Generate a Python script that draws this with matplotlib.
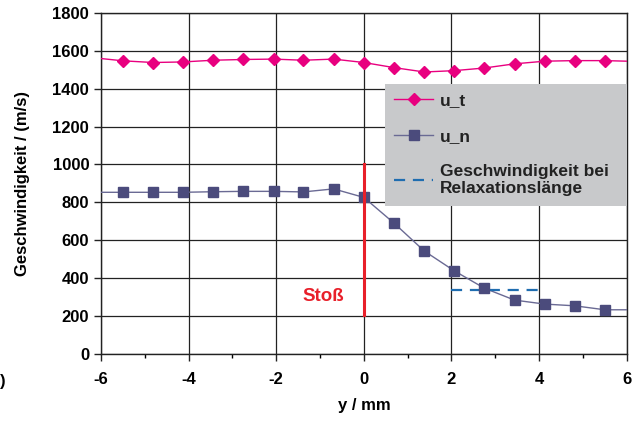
import matplotlib
matplotlib.use('Agg')
import matplotlib.pyplot as plt
from matplotlib.ticker import MultipleLocator

plt.rcParams['font.family'] = ['Liberation Sans', 'DejaVu Sans']
plt.rcParams['font.weight'] = 'bold'
plt.rcParams['axes.unicode_minus'] = False

# values
y_pos = [-5.5, -4.81, -4.13, -3.44, -2.75, -2.06, -1.38, -0.69, 0.0,
         0.69, 1.38, 2.06, 2.75, 3.44, 4.13, 4.81, 5.5]
u_t = [1547, 1538, 1541, 1550, 1554, 1556, 1550, 1556, 1538,
       1511, 1488, 1495, 1509, 1531, 1545, 1548, 1548]
u_n = [853, 853, 853, 856, 858, 858, 855, 871, 826,
       690, 543, 439, 347, 284, 263, 254, 233]
# line continues to the plot border
edge_x = [-6.0, 6.0]
u_t_edge = [1559, 1545]
u_n_edge = [853, 233]

shock_x = 0.0
shock_y = [207, 1000]
relax_x = [2.0, 4.0]
relax_y = 340

fig = plt.figure(figsize=(6.35, 4.29), dpi=100)
ax = fig.add_axes([0.159, 0.175, 0.828, 0.795])

c_t = '#e8007f'
c_n = '#4b4b7c'

ax.plot([edge_x[0]] + y_pos + [edge_x[1]], [u_t_edge[0]] + u_t + [u_t_edge[1]],
        color=c_t, lw=1.0, zorder=3)
ax.plot(y_pos, u_t, ls='none', marker='D', ms=6, color=c_t, zorder=4)
ax.plot([], [], color=c_t, lw=1.0, marker='D', ms=6, label='u_t')

ax.plot([edge_x[0]] + y_pos + [edge_x[1]], [u_n_edge[0]] + u_n + [u_n_edge[1]],
        color='#6a6a94', lw=1.0, zorder=3)
ax.plot(y_pos, u_n, ls='none', marker='s', ms=7, color=c_n, zorder=4)
ax.plot([], [], color='#6a6a94', lw=1.0, marker='s', ms=7, mfc=c_n, mec=c_n, label='u_n')

ax.plot(relax_x, [relax_y, relax_y], color='#1f6db0', lw=1.6, ls=(0, (5, 3.5)),
        zorder=3, label='Geschwindigkeit bei\nRelaxationslänge')

ax.plot([shock_x, shock_x], shock_y, color='#e8202a', lw=2.2, zorder=5)
ax.text(-0.92, 305, 'Stoß', color='#e8202a', fontsize=13.5, fontweight='bold',
        ha='center', va='center')

ax.set_xlim(-6, 6)
ax.set_ylim(0, 1800)
ax.xaxis.set_major_locator(MultipleLocator(2))
ax.xaxis.set_minor_locator(MultipleLocator(1))
ax.yaxis.set_major_locator(MultipleLocator(200))
ax.grid(True, which='major', color='#222222', lw=0.9)
ax.set_axisbelow(True)
for s in ax.spines.values():
    s.set_color('#222222')
    s.set_linewidth(1.0)

ax.tick_params(axis='both', which='major', direction='out', length=5,
               labelsize=12, width=1, color='#222222')
ax.tick_params(axis='x', which='minor', direction='out', length=3, width=1)
ax.tick_params(axis='x', pad=8)
for lab in ax.get_xticklabels() + ax.get_yticklabels():
    lab.set_fontweight('bold')

ax.set_xlabel('y / mm', fontsize=12, fontweight='bold', labelpad=8)
ax.set_ylabel('Geschwindigkeit / (m/s)', fontsize=12, fontweight='bold', labelpad=16)

leg = ax.legend(loc='upper left', bbox_to_anchor=(0.54, 0.437, 0.46, 0.355),
                mode='expand', frameon=True, fancybox=False, framealpha=1,
                facecolor='#c8c9cb', edgecolor='none', fontsize=12.5,
                labelspacing=1.15, handlelength=2.2, handletextpad=0.4,
                borderaxespad=0, borderpad=0.55)
for t in leg.get_texts():
    t.set_fontweight('bold')
    t.set_color('#222222')

fig.text(0.0, 0.1, ')', fontsize=12, fontweight='bold')

fig.savefig('out.png', dpi=100)
